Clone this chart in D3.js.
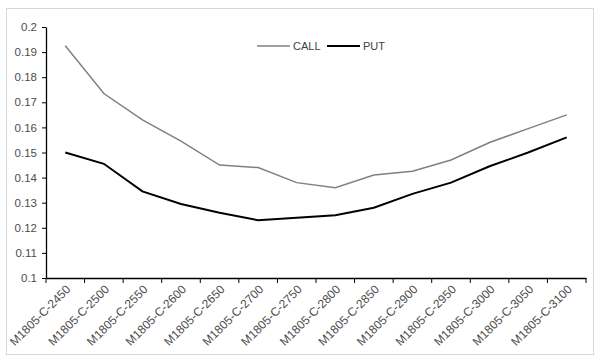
<!DOCTYPE html>
<html>
<head>
<meta charset="utf-8">
<script src="https://cdn.jsdelivr.net/npm/d3@7"></script>
<style>
  body { margin: 0; background: #fff; }
  svg { font-family: "Liberation Sans", Arial, sans-serif; }
</style>
</head>
<body>
<div id="chart"></div>
<script>
const strikes = ["M1805-C-2450", "M1805-C-2500", "M1805-C-2550", "M1805-C-2600", "M1805-C-2650",
  "M1805-C-2700", "M1805-C-2750", "M1805-C-2800", "M1805-C-2850", "M1805-C-2900",
  "M1805-C-2950", "M1805-C-3000", "M1805-C-3050", "M1805-C-3100"];
const callValues = [0.1925, 0.1735, 0.163, 0.1545, 0.145, 0.144, 0.138, 0.136, 0.141, 0.1425, 0.147, 0.154, 0.1595, 0.165];
const putValues = [0.150, 0.1455, 0.1345, 0.1295, 0.126, 0.123, 0.124, 0.125, 0.128, 0.1335, 0.138, 0.1445, 0.150, 0.156];
const yTicks = [0.1, 0.11, 0.12, 0.13, 0.14, 0.15, 0.16, 0.17, 0.18, 0.19, 0.2];

const width = 602, height = 362;
const plotLeft = 46, plotRight = 586, plotTop = 27, plotBottom = 278;

const svg = d3.select("#chart").append("svg")
    .attr("width", width)
    .attr("height", height);

// chart border
svg.append("rect")
    .attr("x", 6.5).attr("y", 8.5)
    .attr("width", 587).attr("height", 346)
    .attr("fill", "#fff")
    .attr("stroke", "#d9d9d9");

const x = d3.scaleBand().domain(strikes).range([plotLeft, plotRight]);
const y = d3.scaleLinear().domain([0.1, 0.2]).range([plotBottom, plotTop]);

// x axis
const xAxis = svg.append("g")
    .attr("transform", `translate(0,${plotBottom})`)
    .call(d3.axisBottom(x).tickSize(0).tickFormat(""));
xAxis.select(".domain").attr("stroke", "#000").attr("stroke-width", 1.3);
xAxis.selectAll(".bt")
    .data(d3.range(strikes.length + 1))
    .join("line")
    .attr("class", "bt")
    .attr("x1", i => plotLeft + i * x.step())
    .attr("x2", i => plotLeft + i * x.step())
    .attr("y1", 0).attr("y2", 5)
    .attr("stroke", "#000");

svg.append("g").selectAll("text")
    .data(strikes)
    .join("text")
    .attr("transform", d => `translate(${x(d) + x.bandwidth() / 2 + 6},${plotBottom + 12}) rotate(-45)`)
    .attr("text-anchor", "end")
    .attr("fill", "#4d4d4d")
    .style("font-size", "12px")
    .text(d => d);

// y axis
const yAxis = svg.append("g")
    .attr("transform", `translate(${plotLeft},0)`)
    .call(d3.axisLeft(y).tickValues(yTicks).tickSize(4).tickSizeOuter(0)
        .tickFormat(d => d3.format("")(+d.toFixed(2))));
yAxis.select(".domain").attr("stroke", "#000").attr("stroke-width", 1.3);
yAxis.selectAll(".tick line").attr("stroke", "#000");
yAxis.selectAll(".tick text")
    .attr("x", -9)
    .attr("fill", "#4d4d4d")
    .style("font-size", "11.5px");

// lines
const line = d3.line()
    .x((d, i) => x(strikes[i]) + x.bandwidth() / 2)
    .y(d => y(d));

svg.append("path")
    .datum(callValues)
    .attr("d", line)
    .attr("fill", "none")
    .attr("stroke", "#808080")
    .attr("stroke-width", 1.5);

svg.append("path")
    .datum(putValues)
    .attr("d", line)
    .attr("fill", "none")
    .attr("stroke", "#000")
    .attr("stroke-width", 2);

// legend
const legend = [
  {name: "CALL", color: "#808080", w: 1.5, x: 257},
  {name: "PUT", color: "#000", w: 2, x: 327}
];
const lg = svg.append("g").selectAll("g")
    .data(legend)
    .join("g")
    .attr("transform", d => `translate(${d.x},46)`);
lg.append("line")
    .attr("x1", 0).attr("x2", 33)
    .attr("stroke", d => d.color)
    .attr("stroke-width", d => d.w);
lg.append("text")
    .attr("x", 36).attr("dy", "0.35em")
    .attr("fill", "#404040")
    .style("font-size", "11px")
    .text(d => d.name);
</script>
</body>
</html>
